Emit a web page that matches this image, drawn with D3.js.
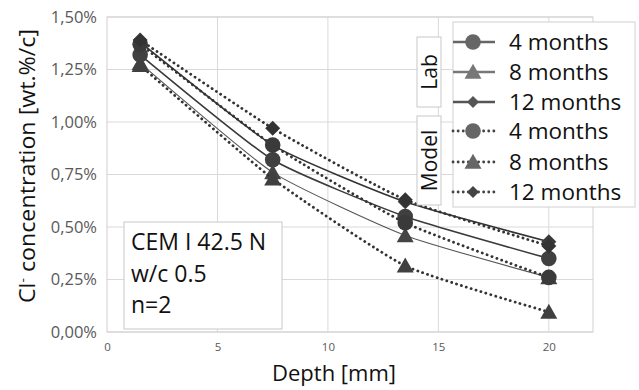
<!DOCTYPE html>
<html><head><meta charset="utf-8">
<script src="https://cdn.jsdelivr.net/npm/d3@7"></script>
<style>
body{margin:0;background:#fff;}
text{font-family:"Open Sans",sans-serif;}
</style></head>
<body><svg id="c" width="639" height="390"></svg>
<script>
const depths = [1.5, 7.5, 13.5, 20];
const lab4 = [0.0132, 0.0082, 0.0055, 0.0035];
const lab8 = [0.0128, 0.0076, 0.0046, 0.0026];
const lab12 = [0.0138, 0.0089, 0.0062, 0.0043];
const model4 = [0.0137, 0.0089, 0.0052, 0.0026];
const model8 = [0.0127, 0.0073, 0.00315, 0.00095];
const model12 = [0.0139, 0.0097, 0.0063, 0.0041];
const seriesNames = ["4 months","8 months","12 months","4 months","8 months","12 months"];
const xTicks = [0, 5, 10, 15, 20];
const yTicks = [0, 0.0025, 0.005, 0.0075, 0.01, 0.0125, 0.015];
const noteLines = ["CEM I 42.5 N", "w/c 0.5", "n=2"];

const series = [
  {name: seriesNames[0], values: lab4, shape: "circle", dotted: false, line: "#3a3a3a", lw: 1.6, fill: "#404040", leg: "#666"},
  {name: seriesNames[1], values: lab8, shape: "triangle", dotted: false, line: "#555", lw: 1.1, fill: "#444", leg: "#777"},
  {name: seriesNames[2], values: lab12, shape: "diamond", dotted: false, line: "#333", lw: 1.6, fill: "#3a3a3a", leg: "#555"},
  {name: seriesNames[3], values: model4, shape: "circle", dotted: true, line: "#333", lw: 2.8, fill: "#3a3a3a", leg: "#666"},
  {name: seriesNames[4], values: model8, shape: "triangle", dotted: true, line: "#333", lw: 2.8, fill: "#404040", leg: "#666"},
  {name: seriesNames[5], values: model12, shape: "diamond", dotted: true, line: "#333", lw: 2.8, fill: "#333", leg: "#444"}
];

const svg = d3.select("#c");
const x = d3.scaleLinear().domain([0, 22]).range([107, 593]);
const y = d3.scaleLinear().domain([0, 0.015]).range([332, 17]);

// gridlines
svg.append("g").selectAll("line").data(yTicks).join("line")
  .attr("x1", x(0)).attr("x2", x(22)).attr("y1", d => y(d)).attr("y2", d => y(d))
  .attr("stroke", "#d9d9d9").attr("stroke-width", 1);
svg.append("g").selectAll("line").data(xTicks.slice(1)).join("line")
  .attr("y1", y(0)).attr("y2", y(0.015)).attr("x1", d => x(d)).attr("x2", d => x(d))
  .attr("stroke", "#d9d9d9").attr("stroke-width", 1);
svg.append("rect").attr("x", x(0)).attr("y", y(0.015)).attr("width", x(22) - x(0)).attr("height", y(0) - y(0.015))
  .attr("fill", "none").attr("stroke", "#d0d0d0");

// axes
const fmt = d => (d * 100).toFixed(2).replace(".", ",") + "%";
const yAxis = svg.append("g").attr("transform", `translate(${x(0)},0)`)
  .call(d3.axisLeft(y).tickValues(yTicks).tickFormat(fmt).tickSize(0).tickPadding(10));
yAxis.select(".domain").remove();
yAxis.selectAll("text").attr("font-size", 16.5).attr("fill", "#595959").style("font-family", "Open Sans");
const xAxis = svg.append("g").attr("transform", `translate(0,${y(0)})`)
  .call(d3.axisBottom(x).tickValues(xTicks).tickFormat(d3.format("d")).tickSize(0).tickPadding(11));
xAxis.select(".domain").remove();
xAxis.selectAll("text").attr("font-size", 11.5).attr("fill", "#595959").style("font-family", "Open Sans");

// axis titles
svg.append("text").attr("x", 334).attr("y", 381).attr("text-anchor", "middle")
  .attr("font-size", 22).attr("fill", "#111").text("Depth [mm]");
const yt = svg.append("text").attr("transform", "translate(35,166) rotate(-90)").attr("text-anchor", "middle")
  .attr("font-size", 22).attr("fill", "#111")
  .attr("textLength", 274).attr("lengthAdjust", "spacingAndGlyphs");
yt.append("tspan").text("Cl");
yt.append("tspan").attr("dy", -8).attr("font-size", 13).text("-");
yt.append("tspan").attr("dy", 8).text(" concentration [wt.%/c]");

// markers
function drawMarker(g, shape, cx, cy, fill, scale) {
  const s = scale || 1;
  if (shape === "circle") {
    g.append("circle").attr("cx", cx).attr("cy", cy).attr("r", 7.8 * s).attr("fill", fill);
  } else if (shape === "triangle") {
    const w = 8.5 * s, h = 15 * s;
    g.append("path").attr("d", `M${cx},${cy - h * 0.55}L${cx + w},${cy + h * 0.45}L${cx - w},${cy + h * 0.45}Z`).attr("fill", fill);
  } else {
    const r = 7.5 * s;
    g.append("path").attr("d", `M${cx},${cy - r}L${cx + r},${cy}L${cx},${cy + r}L${cx - r},${cy}Z`).attr("fill", fill);
  }
}

const line = d3.line().x((d, i) => x(depths[i])).y(d => y(d)).curve(d3.curveCardinal.tension(0.5));
const plot = svg.append("g");
series.forEach(s => {
  const g = plot.append("g");
  g.append("path").attr("d", line(s.values)).attr("fill", "none").attr("stroke", s.line)
    .attr("stroke-width", s.lw)
    .attr("stroke-dasharray", s.dotted ? "0.1,5" : null)
    .attr("stroke-linecap", s.dotted ? "round" : "butt");
  s.values.forEach((v, i) => drawMarker(g, s.shape, x(depths[i]), y(v), s.fill));
});

// text box
const nb = svg.append("g");
nb.append("rect").attr("x", 124).attr("y", 222).attr("width", 158).attr("height", 107)
  .attr("fill", "#fff").attr("stroke", "#c8c8c8");
noteLines.forEach((t, i) => nb.append("text").attr("x", 131).attr("y", 250 + i * 31.5)
  .attr("font-size", 23).attr("fill", "#111").text(t));

// legend
const lg = svg.append("g");
lg.append("rect").attr("x", 453).attr("y", 22).attr("width", 182).attr("height", 185)
  .attr("fill", "#fff").attr("stroke", "#d0d0d0");
const legY = [42, 72, 102, 131, 162, 192];
series.forEach((s, i) => {
  const cy = legY[i];
  lg.append("line").attr("x1", 453).attr("x2", 495).attr("y1", cy).attr("y2", cy)
    .attr("stroke", s.dotted ? "#444" : s.leg).attr("stroke-width", s.dotted ? 2.8 : 2.5)
    .attr("stroke-dasharray", s.dotted ? "0.1,5" : null)
    .attr("stroke-linecap", s.dotted ? "round" : "butt");
  drawMarker(lg, s.shape, 473, cy, s.leg, s.shape === "diamond" ? 0.8 : 1);
  lg.append("text").attr("x", 509).attr("y", cy + 8).attr("font-size", 22.5).attr("fill", "#111").text(s.name);
});
// group labels
[["Lab", 37, 107], ["Model", 116, 205]].forEach(([t, y0, y1]) => {
  lg.append("rect").attr("x", 417).attr("y", y0).attr("width", 24).attr("height", y1 - y0)
    .attr("fill", "#fff").attr("stroke", "#c8c8c8");
  lg.append("text").attr("transform", `translate(437,${(y0 + y1) / 2}) rotate(-90)`)
    .attr("text-anchor", "middle").attr("font-size", 21).attr("fill", "#111").text(t);
});
</script></body></html>
